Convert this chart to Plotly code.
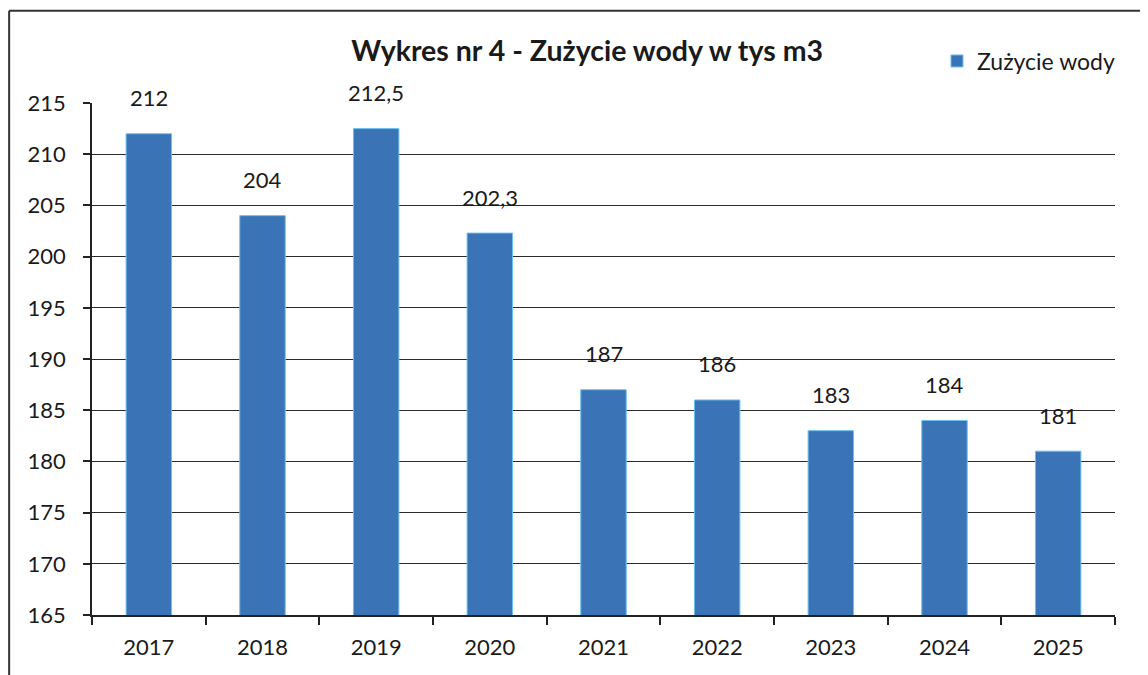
import plotly.graph_objects as go

# Data
years = ["2017", "2018", "2019", "2020", "2021", "2022", "2023", "2024", "2025"]
usage = [212, 204, 212.5, 202.3, 187, 186, 183, 184, 181]
labels = ["212", "204", "212,5", "202,3", "187", "186", "183", "184", "181"]
y_ticks = [165, 170, 175, 180, 185, 190, 195, 200, 205, 210, 215]

FONT = "Lato, 'Open Sans', sans-serif"
BAR = "#3a74b6"
INK = "#1a1a1a"

fig = go.Figure()
fig.add_trace(go.Bar(
    x=years, y=usage, name="Zużycie wody",
    width=0.4,
    marker=dict(color=BAR, line=dict(color="#6cc0ee", width=1)),
    hoverinfo="x+y",
))

# data labels, floating above bars (x given as category index)
for i, (y, t) in enumerate(zip(usage, labels)):
    fig.add_annotation(x=i, y=y, text=t, showarrow=False, yshift=36,
                       font=dict(size=22, color=INK, family=FONT))

# page body has an 8px margin, so the figure is sized/offset for that
fig.update_layout(
    width=1140, height=667,
    paper_bgcolor="white", plot_bgcolor="white",
    margin=dict(l=84, r=33, t=95, b=60, autoexpand=False),
    bargap=0.6,
    title=dict(text="<b>Wykres nr 4 - Zużycie wody w tys m3</b>",
               x=0.508, xanchor="center", y=0.935, yanchor="middle",
               font=dict(size=28.5, color=INK, family=FONT)),
    showlegend=True,
    legend=dict(x=0.826, y=1.082, xanchor="left", yanchor="middle",
                bgcolor="rgba(0,0,0,0)", font=dict(size=23, color=INK, family=FONT),
                itemwidth=30),
    font=dict(family=FONT, color=INK),
)

fig.update_xaxes(
    type="category", range=[-0.5, len(years) - 0.5],
    showline=True, linecolor="#222", linewidth=1.5,
    ticks="outside", tickson="boundaries", ticklen=8, tickcolor="#222", tickwidth=1.5,
    tickfont=dict(size=22, color=INK), showgrid=False, tickangle=0,
    ticklabelstandoff=12,
)
fig.update_yaxes(
    range=[165, 215], tickvals=y_ticks,
    showline=True, linecolor="#222", linewidth=1.5,
    ticks="outside", ticklen=7, tickcolor="#222", tickwidth=1.5,
    showgrid=True, gridcolor="#2a2a2a", gridwidth=1.4,
    tickfont=dict(size=22, color=INK), ticklabelstandoff=13,
    zeroline=False,
)

# scanned page frame
fig.add_shape(type="line", xref="paper", yref="paper",
              x0=-0.081, x1=1.1, y0=1.18, y1=1.18, line=dict(color="#333", width=2))
fig.add_shape(type="line", xref="paper", yref="paper",
              x0=-0.081, x1=-0.081, y0=1.18, y1=-0.2, line=dict(color="#333", width=2))

fig.write_html("out.html")
